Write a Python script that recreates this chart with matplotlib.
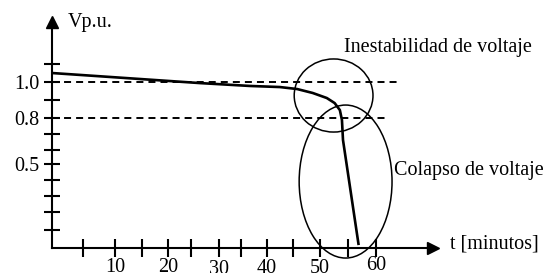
import matplotlib.pyplot as plt
from matplotlib.patches import Ellipse

plt.rcParams['font.family'] = ['Liberation Serif', 'DejaVu Serif']

# voltage curve (t in minutes, V in p.u.)
t_curve = [-2.1, 26.3, 35.9, 41.6, 44.9, 47.9, 50.6, 52.1, 53.1, 53.5, 53.7, 56.7]
v_curve = [1.05, 0.994, 0.978, 0.972, 0.961, 0.939, 0.911, 0.883, 0.844, 0.789, 0.678, 0.094]

# reference levels
ref_levels = [1.0, 0.8]
ref_ends = [64.2, 62.1]

# axis ticks (hand drawn spacing)
x_ticks = [3.9, 10, 15.2, 20.2, 24.6, 29.9, 34.1, 39.1, 44.1, 49.3, 54.6, 60]
x_labels = ['10', '20', '30', '40', '50', '60']
x_label_pos = [10, 20.2, 29.9, 39.1, 49.3, 60]
x_label_dy = [0, 0, 0.012, 0.006, 0.006, -0.012]
y_ticks = [1.1, 1.0, 0.9, 0.8, 0.711, 0.622, 0.544, 0.456, 0.367, 0.278, 0.178]
y_labels = {1.0: '1.0', 0.8: '0.8', 0.544: '0.5'}

fig = plt.figure(figsize=(5.47, 2.73), dpi=100)
ax = fig.add_axes((52 / 547, 25 / 273, 495 / 547, 248 / 273))
x0, v0 = -2.07, 0.0778
ax.set_xlim(x0, 92.8)
ax.set_ylim(v0, 1.4556)

ax.spines[['top', 'right']].set_visible(False)
ax.spines['left'].set_bounds(v0, 1.33)
ax.spines['bottom'].set_bounds(x0, 71)
ax.spines['left'].set_linewidth(1.5)
ax.spines['bottom'].set_linewidth(1.5)

# arrow heads
ax.plot([x0], [1.335], marker='^', color='black', markersize=8, clip_on=False)
ax.plot([71.0], [v0], marker='>', color='black', markersize=8, clip_on=False)

ax.set_xticks(x_ticks)
ax.set_xticklabels([])
ax.set_yticks(y_ticks)
ax.set_yticklabels([y_labels.get(v, '') for v in y_ticks], fontsize=14.5)
ax.tick_params(axis='x', direction='inout', length=13, width=1.5)
ax.tick_params(axis='y', direction='inout', length=12, width=1.5, pad=3)

for lab, pos, dy in zip(x_labels, x_label_pos, x_label_dy):
    ax.text(pos, v0 - 0.055 - dy, lab, ha='center', va='top', fontsize=14.5, clip_on=False)

for lev, end in zip(ref_levels, ref_ends):
    ax.plot([x0, end], [lev, lev], color='black', lw=1.4, ls=(0, (3.6, 2.6)))

ax.plot(t_curve, v_curve, color='black', lw=1.9, solid_capstyle='butt')

ax.add_patch(Ellipse((51.9, 0.925), 15.1, 0.406, fill=False, lw=1.1, color='black'))
ax.add_patch(Ellipse((54.2, 0.447), 17.8, 0.85, fill=False, lw=1.1, color='black', clip_on=False))

ax.text(1.0, 1.333, 'Vp.u.', ha='left', va='center', fontsize=14.5)
ax.text(53.9, 1.194, 'Inestabilidad de voltaje', ha='left', va='center', fontsize=14.5)
ax.text(63.5, 0.511, 'Colapso de voltaje', ha='left', va='center', fontsize=14.5)
ax.text(74.2, 0.1, 't [minutos]', ha='left', va='center', fontsize=14.5)

fig.savefig('out.png', dpi=100)
